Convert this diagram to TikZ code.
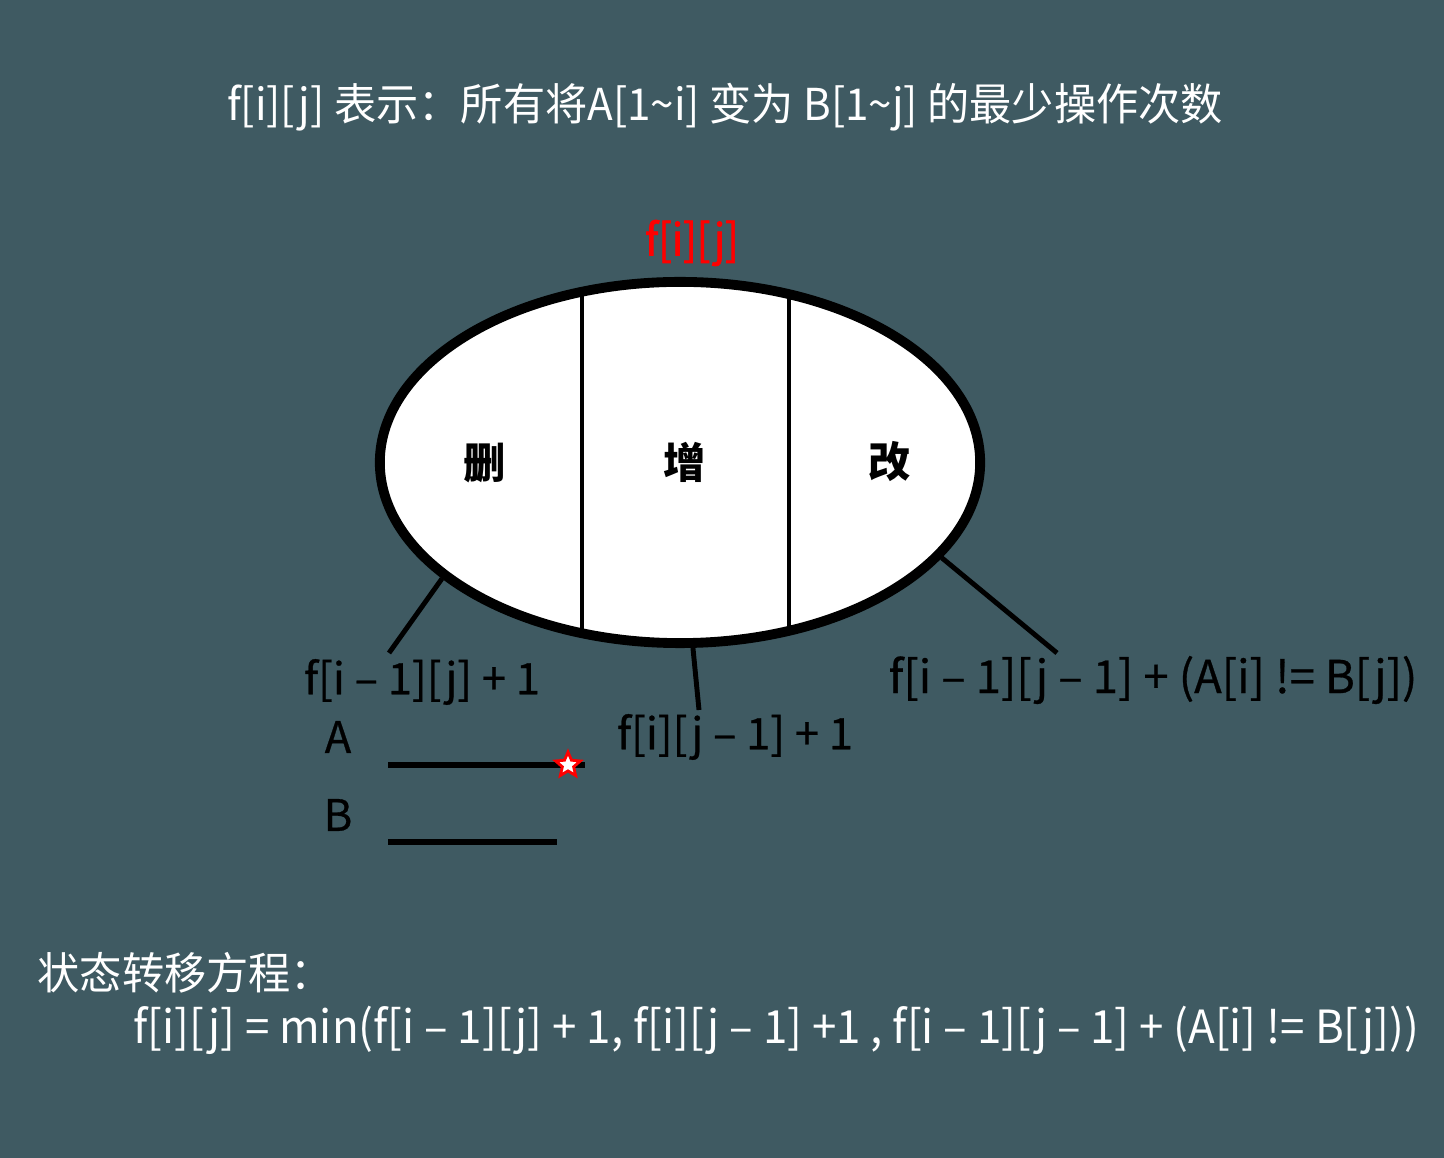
\documentclass[tikz,border=0pt]{standalone}
\usepackage{fontspec}
\setmainfont{Noto Sans CJK SC}
\newfontfamily\narrowfont[FakeStretch=0.96]{Noto Sans CJK SC}
\newfontfamily\tightfont[FakeStretch=0.92,FakeBold=1.5]{Noto Sans CJK SC}
\newfontfamily\labelfont[FakeBold=0.6]{Noto Sans CJK SC}
\usetikzlibrary{shapes.geometric}
\definecolor{slate}{RGB}{63,90,98}
\tikzset{
  txtnode/.style = {inner sep=0pt, anchor=center},
  wht_t/.style = {txtnode, white, font=\narrowfont\fontsize{12.5pt}{14pt}\selectfont},% white narrow text
  blk_t/.style = {txtnode, black, font=\labelfont\fontsize{12.4pt}{14pt}\selectfont},
  op_t/.style = {txtnode, black, font=\bfseries\fontsize{12pt}{14pt}\selectfont},
  seg/.style = {line width=1.4pt, black},
}

\begin{document}
\begin{tikzpicture}[x=0.01cm,y=-0.01cm]
\fill [slate] (0,0) rectangle (1444,1158);
\useasboundingbox (0,0) rectangle (1444,1158);
\node [wht_t] (title) at (725,107) {f[i][j] 表示：所有将A[1\textasciitilde i] 变为 B[1\textasciitilde j] 的最少操作次数};
\node [txtnode, red, font=\tightfont\fontsize{12.5pt}{14pt}\selectfont] (state) at (692,243) {f[i][j]};
% the set f[i][j], cut in three
\node [ellipse, draw, line width=2.8pt, fill=white, minimum width=6cm, minimum height=3.61cm, inner sep=0pt] (fij) at (680,462.5) {};
\begin{scope}
  \clip (fij.center) ellipse (3cm and 1.805cm);
  \draw [line width=1.1pt] (582,250) -- (582,700);
  \draw [line width=1.1pt] (789,250) -- (789,700);
\end{scope}
\node [op_t] (del) at (485,463) {删};
\node [op_t] (ins) at (685,462) {增};
\node [op_t] (chg) at (890,462) {改};
% where each part comes from
\node [blk_t] (delv) at (422,682) {f[i – 1][j] + 1};
\node [blk_t] (insv) at (735,737) {f[i][j – 1] + 1};
\node [blk_t, font=\labelfont\fontsize{12.9pt}{14pt}\selectfont] (chgv) at (1153,680) {f[i – 1][j – 1] + (A[i] != B[j])};
\coordinate (delend) at (389,653);
\coordinate (insend) at (699,710);
\coordinate (chgend) at (1057,653);
\draw [seg] (fij.206) -- (delend);
\draw [seg] (fij.274) -- (insend);
\draw [seg] (fij.340) -- (chgend);
% the two strings
\node [blk_t] (astr) at (338,737) {A};
\node [blk_t] (bstr) at (338,815) {B};
\draw [line width=1.6pt] (388,765) -- (585,765);
\draw [line width=1.6pt] (388,842) -- (557,842);
\node [star, star points=5, star point ratio=2.2, draw=red, fill=white, line width=0.8pt, minimum size=0.26cm, inner sep=0pt] (cur) at (568,765) {};
\node [wht_t, anchor=west] (eqhead) at (37,973) {状态转移方程：};
\node [wht_t, anchor=west, font=\narrowfont\fontsize{13pt}{14pt}\selectfont] (eq) at (133,1030) {f[i][j] = min(f[i – 1][j] + 1, f[i][j – 1] +1 , f[i – 1][j – 1] + (A[i] != B[j]))};
\end{tikzpicture}
\end{document}
